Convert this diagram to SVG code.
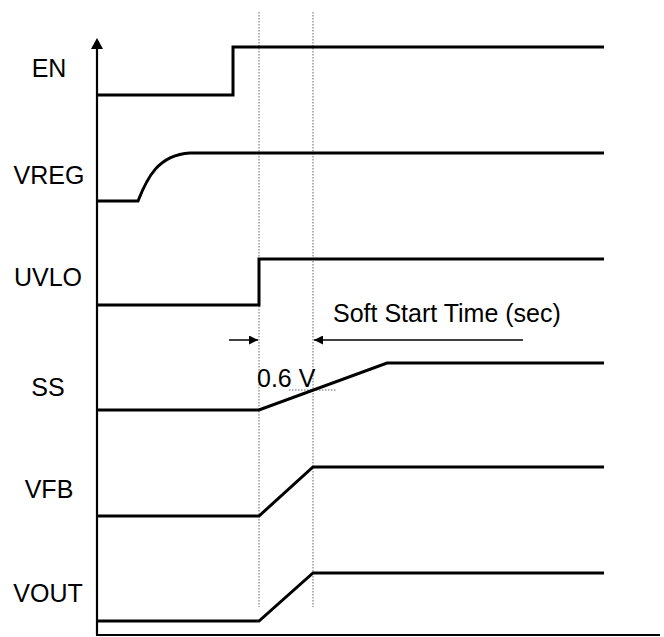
<svg xmlns="http://www.w3.org/2000/svg" width="664" height="637" viewBox="0 0 664 637">
<style>
  .lbl { font-family: "Liberation Sans", Arial, sans-serif; font-size: 25px; fill: #000; }
  .sig { fill: none; stroke: #000; stroke-width: 3; stroke-linejoin: miter; }
  .axis { fill: none; stroke: #000; stroke-width: 2.2; }
  .dot { fill: none; stroke: #666; stroke-width: 1; stroke-dasharray: 1.5 1.5; }
  .dim { fill: none; stroke: #000; stroke-width: 1.5; }
</style>
<defs>
  <marker id="ah" viewBox="0 0 10 10" refX="10" refY="5" markerWidth="10" markerHeight="9" markerUnits="userSpaceOnUse" orient="auto">
    <path d="M0,0 L10,5 L0,10 Z" fill="#000"/>
  </marker>
</defs>
<rect width="664" height="637" fill="#fff"/>
<g id="axes">
  <line class="axis" x1="97" y1="46" x2="97" y2="635"/>
  <path d="M97,38 L91,49 L103,49 Z" fill="#000"/>
  <line class="axis" x1="96" y1="635" x2="660" y2="635"/>
</g>
<g id="guides">
  <line class="dot" x1="259" y1="12" x2="259" y2="607"/>
  <line class="dot" x1="313" y1="12" x2="313" y2="607"/>
  <line class="dot" x1="289" y1="390" x2="337" y2="390"/>
</g>
<g id="EN">
  <text class="lbl" x="49" y="77" text-anchor="middle">EN</text>
  <path class="sig" d="M97,95 H233 V47 H604"/>
</g>
<g id="VREG">
  <text class="lbl" x="49" y="184" text-anchor="middle">VREG</text>
  <path class="sig" d="M97,201 H138 C147,178 158,155 190,153 H604"/>
</g>
<g id="UVLO">
  <text class="lbl" x="48" y="286" text-anchor="middle">UVLO</text>
  <path class="sig" d="M97,305 H259 V259 H604"/>
</g>
<g id="SS">
  <text class="lbl" x="48" y="396" text-anchor="middle">SS</text>
  <path class="sig" d="M97,410 H259 L387,363 H604"/>
  <text class="lbl" x="257" y="387">0.6 V</text>
</g>
<g id="VFB">
  <text class="lbl" x="49" y="498" text-anchor="middle">VFB</text>
  <path class="sig" d="M97,516 H259 L313,467 H604"/>
</g>
<g id="VOUT">
  <text class="lbl" x="48" y="602" text-anchor="middle">VOUT</text>
  <path class="sig" d="M97,621 H259 L313,573 H604"/>
</g>
<g id="connectors">
  <line class="dim" x1="229" y1="340" x2="258" y2="340" marker-end="url(#ah)"/>
  <line class="dim" x1="523" y1="340" x2="314" y2="340" marker-end="url(#ah)"/>
  <text class="lbl" x="333" y="322">Soft Start Time (sec)</text>
</g>
</svg>
